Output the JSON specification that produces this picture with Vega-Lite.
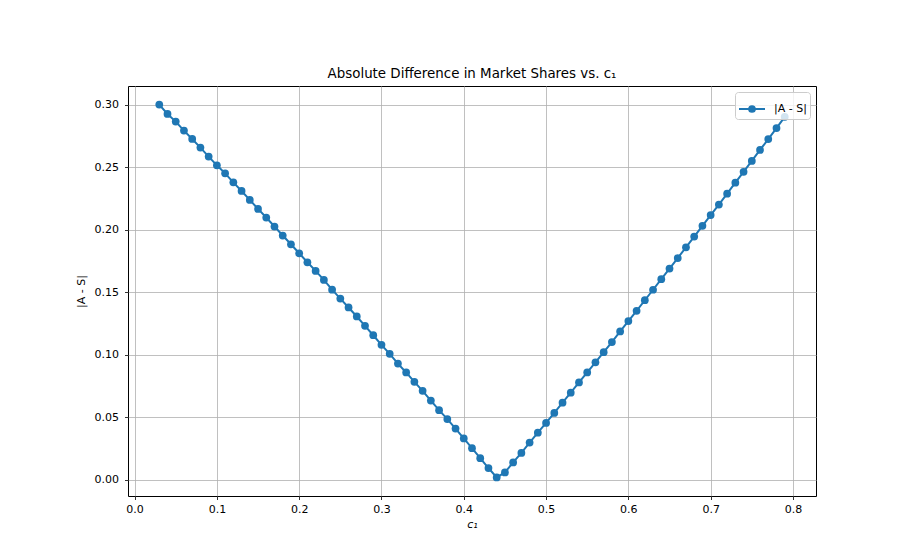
{
  "$schema": "https://vega.github.io/schema/vega-lite/v6.json",
  "width": 688,
  "height": 410,
  "autosize": {"type": "none"},
  "padding": {"left": 128, "top": 86, "right": 87, "bottom": 60},
  "background": "white",
  "title": {
    "text": "Absolute Difference in Market Shares vs. c₁",
    "font": "DejaVu Sans",
    "fontSize": 13.4,
    "fontWeight": "normal",
    "color": "black",
    "anchor": "middle",
    "offset": 6
  },
  "data": {
    "values": [
      {"c1": 0.03, "diff": 0.3003, "series": "|A - S|"},
      {"c1": 0.04, "diff": 0.2928, "series": "|A - S|"},
      {"c1": 0.05, "diff": 0.2867, "series": "|A - S|"},
      {"c1": 0.06, "diff": 0.2795, "series": "|A - S|"},
      {"c1": 0.07, "diff": 0.2728, "series": "|A - S|"},
      {"c1": 0.08, "diff": 0.2659, "series": "|A - S|"},
      {"c1": 0.09, "diff": 0.2587, "series": "|A - S|"},
      {"c1": 0.10, "diff": 0.2517, "series": "|A - S|"},
      {"c1": 0.11, "diff": 0.2453, "series": "|A - S|"},
      {"c1": 0.12, "diff": 0.2381, "series": "|A - S|"},
      {"c1": 0.13, "diff": 0.2312, "series": "|A - S|"},
      {"c1": 0.14, "diff": 0.2240, "series": "|A - S|"},
      {"c1": 0.15, "diff": 0.2168, "series": "|A - S|"},
      {"c1": 0.16, "diff": 0.2099, "series": "|A - S|"},
      {"c1": 0.17, "diff": 0.2027, "series": "|A - S|"},
      {"c1": 0.18, "diff": 0.1955, "series": "|A - S|"},
      {"c1": 0.19, "diff": 0.1885, "series": "|A - S|"},
      {"c1": 0.20, "diff": 0.1813, "series": "|A - S|"},
      {"c1": 0.21, "diff": 0.1741, "series": "|A - S|"},
      {"c1": 0.22, "diff": 0.1672, "series": "|A - S|"},
      {"c1": 0.23, "diff": 0.1600, "series": "|A - S|"},
      {"c1": 0.24, "diff": 0.1522, "series": "|A - S|"},
      {"c1": 0.25, "diff": 0.1450, "series": "|A - S|"},
      {"c1": 0.26, "diff": 0.1379, "series": "|A - S|"},
      {"c1": 0.27, "diff": 0.1307, "series": "|A - S|"},
      {"c1": 0.28, "diff": 0.1232, "series": "|A - S|"},
      {"c1": 0.29, "diff": 0.1157, "series": "|A - S|"},
      {"c1": 0.30, "diff": 0.1080, "series": "|A - S|"},
      {"c1": 0.31, "diff": 0.1008, "series": "|A - S|"},
      {"c1": 0.32, "diff": 0.0930, "series": "|A - S|"},
      {"c1": 0.33, "diff": 0.0859, "series": "|A - S|"},
      {"c1": 0.34, "diff": 0.0784, "series": "|A - S|"},
      {"c1": 0.35, "diff": 0.0712, "series": "|A - S|"},
      {"c1": 0.36, "diff": 0.0634, "series": "|A - S|"},
      {"c1": 0.37, "diff": 0.0557, "series": "|A - S|"},
      {"c1": 0.38, "diff": 0.0486, "series": "|A - S|"},
      {"c1": 0.39, "diff": 0.0410, "series": "|A - S|"},
      {"c1": 0.40, "diff": 0.0331, "series": "|A - S|"},
      {"c1": 0.41, "diff": 0.0253, "series": "|A - S|"},
      {"c1": 0.42, "diff": 0.0173, "series": "|A - S|"},
      {"c1": 0.43, "diff": 0.0094, "series": "|A - S|"},
      {"c1": 0.44, "diff": 0.0019, "series": "|A - S|"},
      {"c1": 0.45, "diff": 0.0059, "series": "|A - S|"},
      {"c1": 0.46, "diff": 0.0139, "series": "|A - S|"},
      {"c1": 0.47, "diff": 0.0215, "series": "|A - S|"},
      {"c1": 0.48, "diff": 0.0298, "series": "|A - S|"},
      {"c1": 0.49, "diff": 0.0377, "series": "|A - S|"},
      {"c1": 0.50, "diff": 0.0455, "series": "|A - S|"},
      {"c1": 0.51, "diff": 0.0535, "series": "|A - S|"},
      {"c1": 0.52, "diff": 0.0617, "series": "|A - S|"},
      {"c1": 0.53, "diff": 0.0697, "series": "|A - S|"},
      {"c1": 0.54, "diff": 0.0779, "series": "|A - S|"},
      {"c1": 0.55, "diff": 0.0859, "series": "|A - S|"},
      {"c1": 0.56, "diff": 0.0940, "series": "|A - S|"},
      {"c1": 0.57, "diff": 0.1021, "series": "|A - S|"},
      {"c1": 0.58, "diff": 0.1102, "series": "|A - S|"},
      {"c1": 0.59, "diff": 0.1187, "series": "|A - S|"},
      {"c1": 0.60, "diff": 0.1270, "series": "|A - S|"},
      {"c1": 0.61, "diff": 0.1352, "series": "|A - S|"},
      {"c1": 0.62, "diff": 0.1437, "series": "|A - S|"},
      {"c1": 0.63, "diff": 0.1521, "series": "|A - S|"},
      {"c1": 0.64, "diff": 0.1606, "series": "|A - S|"},
      {"c1": 0.65, "diff": 0.1691, "series": "|A - S|"},
      {"c1": 0.66, "diff": 0.1775, "series": "|A - S|"},
      {"c1": 0.67, "diff": 0.1861, "series": "|A - S|"},
      {"c1": 0.68, "diff": 0.1947, "series": "|A - S|"},
      {"c1": 0.69, "diff": 0.2033, "series": "|A - S|"},
      {"c1": 0.70, "diff": 0.2119, "series": "|A - S|"},
      {"c1": 0.71, "diff": 0.2203, "series": "|A - S|"},
      {"c1": 0.72, "diff": 0.2290, "series": "|A - S|"},
      {"c1": 0.73, "diff": 0.2378, "series": "|A - S|"},
      {"c1": 0.74, "diff": 0.2465, "series": "|A - S|"},
      {"c1": 0.75, "diff": 0.2552, "series": "|A - S|"},
      {"c1": 0.76, "diff": 0.2640, "series": "|A - S|"},
      {"c1": 0.77, "diff": 0.2727, "series": "|A - S|"},
      {"c1": 0.78, "diff": 0.2815, "series": "|A - S|"},
      {"c1": 0.79, "diff": 0.2905, "series": "|A - S|"}
    ]
  },
  "mark": {
    "type": "line",
    "strokeWidth": 2,
    "point": {"filled": true, "size": 60, "opacity": 1}
  },
  "encoding": {
    "x": {
      "field": "c1",
      "type": "quantitative",
      "scale": {"domain": [-0.008, 0.828], "nice": false, "zero": false},
      "axis": {
        "title": "c₁",
        "titleFontStyle": "italic",
        "values": [0, 0.1, 0.2, 0.3, 0.4, 0.5, 0.6, 0.7, 0.8],
        "format": ".1f",
        "titlePadding": 4
      }
    },
    "y": {
      "field": "diff",
      "type": "quantitative",
      "scale": {"domain": [-0.0130, 0.3152], "nice": false, "zero": false},
      "axis": {
        "title": "|A - S|",
        "values": [0, 0.05, 0.1, 0.15, 0.2, 0.25, 0.3],
        "format": ".2f",
        "titlePadding": 8
      }
    },
    "color": {
      "field": "series",
      "type": "nominal",
      "scale": {"range": ["#1f77b4"]},
      "legend": {
        "title": null,
        "orient": "top-right",
        "offset": 6,
        "symbolType": "M-1,0H1M-0.22,0A0.22,0.22 0 1,0 0.22,0A0.22,0.22 0 1,0 -0.22,0Z",
        "symbolSize": 676,
        "symbolStrokeWidth": 2,
        "symbolFillColor": "#1f77b4",
        "symbolStrokeColor": "#1f77b4",
        "symbolOpacity": 1,
        "labelFont": "DejaVu Sans",
        "labelFontSize": 11,
        "labelColor": "black",
        "labelOffset": 8,
        "padding": 3,
        "fillColor": "rgba(255,255,255,0.8)",
        "strokeColor": "#cccccc",
        "cornerRadius": 3
      }
    }
  },
  "config": {
    "view": {"stroke": "black", "strokeWidth": 1},
    "axis": {
      "domain": false,
      "grid": true,
      "gridColor": "#b0b0b0",
      "gridWidth": 0.8,
      "gridOpacity": 1,
      "ticks": true,
      "tickColor": "black",
      "tickSize": 3.5,
      "tickWidth": 0.8,
      "labelFont": "DejaVu Sans",
      "labelFontSize": 11,
      "labelColor": "black",
      "labelPadding": 4,
      "titleFont": "DejaVu Sans",
      "titleFontSize": 11,
      "titleFontWeight": "normal",
      "titleColor": "black"
    },
    "axisY": {"labelPadding": 6}
  }
}
